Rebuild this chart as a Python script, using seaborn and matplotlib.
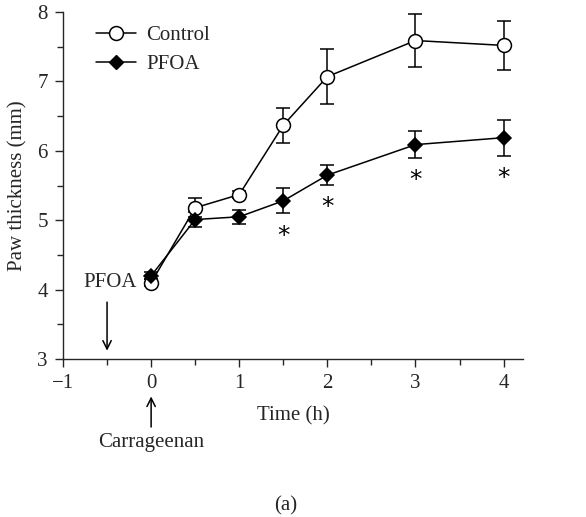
import seaborn as sns
import matplotlib.pyplot as plt
import pandas as pd

# values
time_h = [0, 0.5, 1, 1.5, 2, 3, 4]
control_mean = [4.10, 5.18, 5.37, 6.37, 7.07, 7.59, 7.52]
control_err = [0.05, 0.14, 0.05, 0.25, 0.40, 0.38, 0.35]
pfoa_mean = [4.20, 5.01, 5.05, 5.28, 5.65, 6.09, 6.19]
pfoa_err = [0.05, 0.11, 0.10, 0.18, 0.14, 0.19, 0.26]
signif = [False, False, False, True, True, True, True]

df = pd.DataFrame({
    "time": time_h * 2,
    "thickness": control_mean + pfoa_mean,
    "err": control_err + pfoa_err,
    "group": ["Control"] * len(time_h) + ["PFOA"] * len(time_h),
})

sns.set_style("ticks")
plt.rcParams["font.family"] = ["Liberation Serif", "DejaVu Serif"]
plt.rcParams["font.size"] = 15

fig = plt.figure(figsize=(5.86, 5.17), dpi=100)
ax = fig.add_axes([0.1075, 0.3056, 0.785, 0.671])

# error bars first so markers sit on top
for grp, d in df.groupby("group"):
    ax.errorbar(d["time"], d["thickness"], yerr=d["err"], fmt="none",
                ecolor="black", elinewidth=1.1, capsize=5, capthick=1.1, zorder=2)

sns.lineplot(data=df, x="time", y="thickness", hue="group", style="group",
             palette={"Control": "black", "PFOA": "black"},
             markers={"Control": "o", "PFOA": "D"}, dashes=False,
             linewidth=1.1, markersize=10, markeredgecolor="black",
             markeredgewidth=1.1, ax=ax, legend=False, zorder=3)

# open circles for control, smaller diamonds for PFOA
ax.lines[-2].set_markerfacecolor("white")
ax.lines[-1].set_markersize(7.5)

# significance stars under PFOA error bars
for t, m, e, s in zip(time_h, pfoa_mean, pfoa_err, signif):
    if s:
        ax.text(t, m - e - 0.32, "*", ha="center", va="center", fontsize=18,
                color="black", family="DejaVu Sans")

ax.set_xlim(-1, 4.22)
ax.set_ylim(3, 8)
ax.set_xticks([-1, 0, 1, 2, 3, 4])
ax.set_xticklabels(["\u22121", "0", "1", "2", "3", "4"])
ax.set_xticks([-0.5, 0.5, 1.5, 2.5, 3.5], minor=True)
ax.set_yticks([3, 4, 5, 6, 7, 8])
ax.set_yticks([3.5, 4.5, 5.5, 6.5, 7.5], minor=True)
ax.tick_params(which="major", direction="out", length=6, width=1, pad=5,
               labelsize=15)
ax.tick_params(which="minor", direction="out", length=4, width=1)
for sp in ["top", "right"]:
    ax.spines[sp].set_visible(False)
for sp in ["left", "bottom"]:
    ax.spines[sp].set_linewidth(1)

ax.set_xlabel("Time (h)", fontsize=15, labelpad=9)
ax.set_ylabel("Paw thickness (mm)", fontsize=15, labelpad=7)

# legend
h_ctrl = plt.Line2D([], [], color="black", marker="o", markerfacecolor="white",
                    markersize=10, linewidth=1.1, markeredgewidth=1.1)
h_pfoa = plt.Line2D([], [], color="black", marker="D", markerfacecolor="black",
                    markersize=7.5, linewidth=1.1)
ax.legend([h_ctrl, h_pfoa], ["Control", "PFOA"], loc="upper left",
          bbox_to_anchor=(0.03, 1.015), frameon=False, handlelength=1.95,
          handletextpad=0.48, labelspacing=0.45, fontsize=15)

# annotations
ax.text(-0.46, 4.1, "PFOA", ha="center", va="center", fontsize=15)
ax.annotate("", xy=(-0.5, 3.08), xytext=(-0.5, 3.86),
            arrowprops=dict(arrowstyle="->", color="black", lw=1.1))
ax.annotate("", xy=(0, 2.5), xytext=(0, 1.98), xycoords="data",
            arrowprops=dict(arrowstyle="->", color="black", lw=1.1),
            annotation_clip=False)
ax.text(0, 1.8, "Carrageenan", ha="center", va="center", fontsize=15,
        clip_on=False)
fig.text(0.487, 0.022, "(a)", ha="center", va="center", fontsize=15)

fig.savefig("out.png", dpi=100)
